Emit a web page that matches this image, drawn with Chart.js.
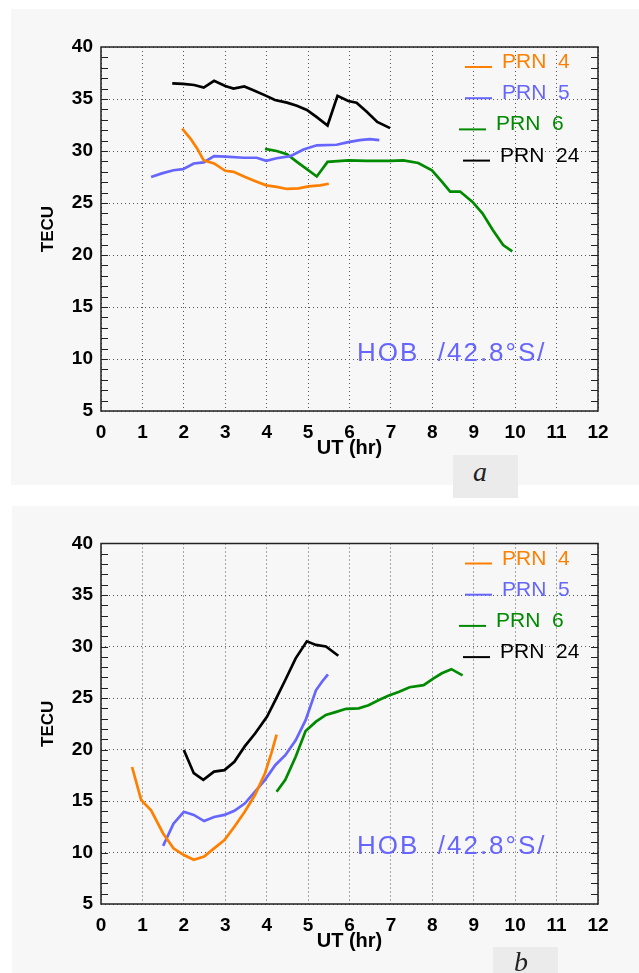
<!DOCTYPE html>
<html>
<head>
<meta charset="utf-8">
<script src="https://cdn.jsdelivr.net/npm/chart.js@4.4.1/dist/chart.umd.min.js"></script>
<style>
  body { margin: 0; background: #fff; width: 639px; height: 973px; position: relative; overflow: hidden; }
  .panel { position: absolute; background: #f7f7f7; }
  canvas { position: absolute; left: 0; }
  .tag { position: absolute; background: #ebebeb; font: italic 28px "Liberation Serif", serif; line-height: 28px; color: #222; }
  .tag span { position: absolute; }
</style>
</head>
<body>
<div class="panel" style="left:11px;top:9px;width:628px;height:476px"></div>
<div class="panel" style="left:12px;top:506px;width:627px;height:467px"></div>
<canvas id="chartA" width="639" height="490" style="top:0"></canvas>
<canvas id="chartB" width="639" height="476" style="top:497px"></canvas>
<div class="tag" style="left:453px;top:455px;width:65px;height:43px"><span style="left:20px;top:3px">a</span></div>
<div class="tag" style="left:493px;top:947px;width:65px;height:26px"><span style="left:21px;top:1px">b</span></div>

<script>
// ---- panel a ----
const hrA4  = [1.96, 2.16, 2.32, 2.48, 2.73, 3.0, 3.2, 3.48, 3.76, 3.99, 4.24, 4.49, 4.77, 5.01, 5.29, 5.5];
const tecA4 = [32.15, 31.2, 30.25, 29.1, 28.8, 28.1, 28.0, 27.5, 27.05, 26.7, 26.55, 26.35, 26.4, 26.6, 26.7, 26.85];

const hrA5  = [1.21, 1.47, 1.75, 1.98, 2.24, 2.48, 2.73, 3.0, 3.44, 3.76, 3.99, 4.24, 4.57, 4.89, 5.21, 5.69, 5.97, 6.25, 6.49, 6.72];
const tecA5 = [27.5, 27.85, 28.15, 28.25, 28.8, 28.9, 29.5, 29.45, 29.35, 29.35, 29.05, 29.3, 29.5, 30.15, 30.55, 30.6, 30.85, 31.05, 31.15, 31.05];

const hrA6  = [3.96, 4.24, 4.49, 4.73, 4.97, 5.21, 5.47, 5.97, 6.41, 6.98, 7.3, 7.66, 7.99, 8.23, 8.43, 8.67, 8.97, 9.21, 9.46, 9.71, 9.93];
const tecA6 = [30.2, 30.0, 29.7, 28.95, 28.25, 27.55, 28.95, 29.1, 29.05, 29.05, 29.1, 28.85, 28.15, 27.05, 26.1, 26.1, 25.1, 24.0, 22.4, 20.95, 20.35];

const hrA24  = [1.72, 1.98, 2.25, 2.48, 2.73, 3.0, 3.2, 3.46, 3.68, 3.99, 4.2, 4.49, 4.73, 4.97, 5.21, 5.47, 5.71, 5.97, 6.17, 6.41, 6.67, 6.98];
const tecA24 = [36.5, 36.45, 36.35, 36.1, 36.75, 36.25, 36.0, 36.2, 35.85, 35.3, 34.9, 34.65, 34.35, 33.95, 33.25, 32.45, 35.3, 34.8, 34.65, 33.8, 32.8, 32.2];

// ---- panel b ----
const hrB4  = [0.75, 0.97, 1.21, 1.5, 1.75, 2.0, 2.24, 2.49, 2.73, 2.98, 3.22, 3.47, 3.72, 3.96, 4.11, 4.24];
const tecB4 = [18.3, 15.1, 14.1, 11.85, 10.4, 9.75, 9.3, 9.6, 10.4, 11.2, 12.5, 13.95, 15.6, 17.7, 19.6, 21.45];

const hrB5  = [1.5, 1.75, 2.0, 2.24, 2.49, 2.73, 2.98, 3.22, 3.47, 3.72, 3.96, 4.21, 4.45, 4.7, 4.94, 5.19, 5.34, 5.48];
const tecB5 = [10.65, 12.8, 13.95, 13.65, 13.05, 13.45, 13.65, 14.05, 14.75, 15.9, 17.05, 18.5, 19.45, 20.9, 22.85, 25.75, 26.6, 27.3];

const hrB6  = [4.24, 4.45, 4.7, 4.94, 5.19, 5.43, 5.68, 5.92, 6.22, 6.46, 6.71, 6.95, 7.2, 7.45, 7.79, 8.03, 8.23, 8.46, 8.73];
const tecB6 = [15.9, 17.05, 19.3, 21.8, 22.7, 23.35, 23.65, 23.95, 24.0, 24.3, 24.8, 25.25, 25.6, 26.05, 26.25, 26.9, 27.4, 27.8, 27.2];

const hrB24  = [2.0, 2.24, 2.47, 2.73, 2.98, 3.22, 3.47, 3.72, 4.01, 4.21, 4.45, 4.7, 4.97, 5.19, 5.43, 5.73];
const tecB24 = [19.95, 17.7, 17.05, 17.85, 18.0, 18.8, 20.3, 21.55, 23.2, 24.8, 26.75, 28.85, 30.5, 30.15, 30.0, 29.1];

const seriesLabels = ["PRN 4", "PRN 5", "PRN 6", "PRN 24"];
const seriesColors = ["#ff8000", "#6666ff", "#008a00", "#000000"];
const stationText = "HOB  /42.8\u00b0S/";

function pts(hrs, vals) {
    return hrs.map((h, i) => ({ x: h, y: vals[i] }));
}

// frame + small inward ticks every 1 TECU on both sides
const framePlugin = {
    id: "frame",
    beforeDatasetsDraw(chart) {
        const { ctx, chartArea: a } = chart;
        const ys = chart.scales.y;
        ctx.save();
        ctx.strokeStyle = "#222";
        ctx.lineWidth = 1;
        for (let v = ys.min + 1; v < ys.max; v++) {
            const y = Math.round(ys.getPixelForValue(v)) + 0.5;
            ctx.beginPath();
            ctx.moveTo(a.left, y); ctx.lineTo(a.left + 7, y);
            ctx.moveTo(a.right - 7, y); ctx.lineTo(a.right, y);
            ctx.stroke();
        }
        ctx.lineWidth = 1.5;
        ctx.strokeRect(a.left, a.top, a.right - a.left, a.bottom - a.top);
        ctx.restore();
    }
};

// legend drawn inside the plot, top right
const legendPlugin = {
    id: "insideLegend",
    afterDraw(chart) {
        const { ctx, chartArea: a } = chart;
        const shift = [0, 0, -6, -2];
        ctx.save();
        ctx.font = '21px "Liberation Sans"';
        ctx.textBaseline = "alphabetic";
        chart.data.datasets.forEach((ds, i) => {
            const base = a.top + 21 + 31.2 * i;
            const dx = shift[i];
            ctx.strokeStyle = ds.borderColor;
            ctx.lineWidth = 2;
            ctx.beginPath();
            ctx.moveTo(a.right - 133 + dx, base - 1);
            ctx.lineTo(a.right - 106 + dx, base - 1);
            ctx.stroke();
            ctx.fillStyle = ds.borderColor;
            ctx.fillText(ds.label.replace(" ", "  "), a.right - 96 + dx, base);
        });
        ctx.restore();
    }
};

const stationPlugin = {
    id: "station",
    afterDraw(chart) {
        const { ctx } = chart;
        const x = chart.scales.x.getPixelForValue(6.18);
        const y = chart.scales.y.getPixelForValue(9.85);
        ctx.save();
        ctx.font = '26px "Liberation Sans"';
        ctx.letterSpacing = "2px";
        ctx.fillStyle = "#6666ff";
        ctx.textBaseline = "alphabetic";
        ctx.fillText(stationText, x, y);
        ctx.restore();
    }
};

const tickFont = { family: "Liberation Sans", weight: "bold", size: 19 };

function makeChart(id, groups, padTop, padBottom) {
    const datasets = groups.map((g, i) => ({
        label: seriesLabels[i],
        data: pts(g[0], g[1]),
        borderColor: seriesColors[i],
        backgroundColor: seriesColors[i],
        borderWidth: 2.7,
        pointRadius: 0,
        tension: 0,
        fill: false
    }));
    return new Chart(document.getElementById(id), {
        type: "line",
        data: { datasets: datasets },
        options: {
            responsive: false,
            animation: false,
            devicePixelRatio: 1,
            layout: { padding: { left: 0, right: 41, top: padTop, bottom: padBottom } },
            plugins: { legend: { display: false }, tooltip: { enabled: false } },
            scales: {
                x: {
                    type: "linear",
                    min: 0,
                    max: 12,
                    ticks: { stepSize: 1, padding: 10, color: "#000", font: tickFont },
                    grid: { color: "#555", lineWidth: 1, drawTicks: false },
                    border: { display: false, dash: [1, 3] },
                    title: {
                        display: true,
                        text: "UT (hr)",
                        color: "#000",
                        font: { family: "Liberation Sans", weight: "bold", size: 20 },
                        padding: { top: 0, bottom: 6 }
                    },
                    afterFit: (s) => { s.height = 55; }
                },
                y: {
                    type: "linear",
                    min: 5,
                    max: 40,
                    ticks: { stepSize: 5, padding: 8, color: "#000", font: tickFont },
                    grid: { color: "#555", lineWidth: 1, drawTicks: false },
                    border: { display: false, dash: [1, 3] },
                    title: {
                        display: true,
                        text: "TECU",
                        color: "#000",
                        font: { family: "Liberation Sans", weight: "bold", size: 17 },
                        padding: { top: 38, bottom: 0 }
                    },
                    afterFit: (s) => { s.width = 101; }
                }
            }
        },
        plugins: [framePlugin, legendPlugin, stationPlugin]
    });
}

makeChart("chartA", [[hrA4, tecA4], [hrA5, tecA5], [hrA6, tecA6], [hrA24, tecA24]], 47, 24);
makeChart("chartB", [[hrB4, tecB4], [hrB5, tecB5], [hrB6, tecB6], [hrB24, tecB24]], 46.5, 14);
</script>
</body>
</html>
